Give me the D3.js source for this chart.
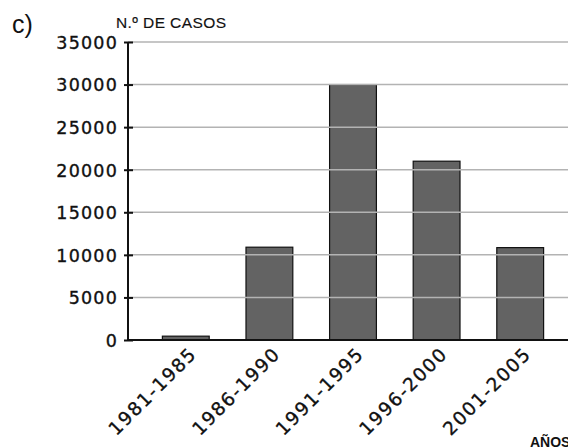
<!DOCTYPE html>
<html><head><meta charset="utf-8">
<script src="https://cdn.jsdelivr.net/npm/d3@7"></script>
<style>body{margin:0;background:#fff}svg{display:block}</style>
</head><body>
<script>
const categories = ["1981-1985","1986-1990","1991-1995","1996-2000","2001-2005"];
const casos = [450, 10900, 30000, 21000, 10850];
const yTicks = [0, 5000, 10000, 15000, 20000, 25000, 30000, 35000];
const panelLabel = "c)";
const yTitle = "N.º DE CASOS";
const xTitle = "AÑOS";

const W = 568, H = 447;
const svg = d3.select("body").append("svg").attr("width", W).attr("height", H)
  .style("font-family", "'Liberation Sans', Arial, sans-serif");
const axisX = 128, y0 = 340, yTop = 42;
const x = d3.scaleBand().domain(categories).range([144, 562]).paddingInner(0.44).paddingOuter(0.22);
const y = d3.scaleLinear().domain([0, 35000]).range([y0, yTop]);
const numFont = "'DejaVu Sans', Verdana, sans-serif";

// bars
svg.append("g").selectAll("rect").data(casos).join("rect")
  .attr("x", (d,i) => x(categories[i]))
  .attr("width", x.bandwidth())
  .attr("y", d => y(d))
  .attr("height", d => y0 - y(d))
  .attr("fill", "#636363").attr("stroke", "#111").attr("stroke-width", 1.2);

// gridlines over bars
svg.append("g").selectAll("line").data(yTicks.filter(t => t > 0)).join("line")
  .attr("x1", axisX).attr("x2", W)
  .attr("y1", d => y(d)).attr("y2", d => y(d))
  .attr("stroke", "#b3b3b3").attr("stroke-width", 1.5);

// baseline
svg.append("line").attr("x1", axisX).attr("x2", W).attr("y1", y0).attr("y2", y0)
  .attr("stroke", "#111").attr("stroke-width", 2);

// y axis
const yAxis = d3.axisLeft(y).tickValues(yTicks).tickSize(0).tickPadding(0).tickFormat(d => d);
const ga = svg.append("g").attr("transform", `translate(${axisX},0)`).call(yAxis);
ga.select(".domain").remove();
ga.selectAll("text").remove();
ga.attr("font-family", null).attr("font-size", null);
ga.append("line").attr("x1", 0).attr("x2", 0).attr("y1", yTop).attr("y2", y0).attr("stroke", "#111").attr("stroke-width", 2);
ga.selectAll(".tick").append("line").attr("x1", -4).attr("x2", 5).attr("stroke", "#111").attr("stroke-width", 2);
ga.selectAll(".tick").append("text")
  .attr("x", -10).attr("dy", "0.36em").attr("text-anchor", "end").attr("fill", "#111")
  .attr("stroke", "#111").attr("stroke-width", 0.35)
  .style("font-family", numFont).style("font-size", "17.5px").style("letter-spacing", "1.2px")
  .text(d => d);

// x labels
svg.append("g").selectAll("text").data(categories).join("text")
  .attr("transform", d => `translate(${x(d) + x.bandwidth()/2 + 12},${355}) rotate(-45)`)
  .attr("text-anchor", "end").attr("fill", "#111")
  .attr("stroke", "#111").attr("stroke-width", 0.35)
  .style("font-family", numFont).style("font-size", "18.5px").style("letter-spacing", "1.6px")
  .text(d => d);

svg.append("text").attr("x", 12).attr("y", 33).attr("fill", "#111").style("font-size", "25px").text(panelLabel);
svg.append("text").attr("x", 116).attr("y", 28).attr("fill", "#111").style("font-size", "15.5px").style("letter-spacing", "0.4px")
  .attr("stroke", "#111").attr("stroke-width", 0.15).text(yTitle);
svg.append("text").attr("x", 530).attr("y", 447).attr("fill", "#111").style("font-size", "14px").style("font-weight", "bold").text(xTitle);
</script>
</body></html>
